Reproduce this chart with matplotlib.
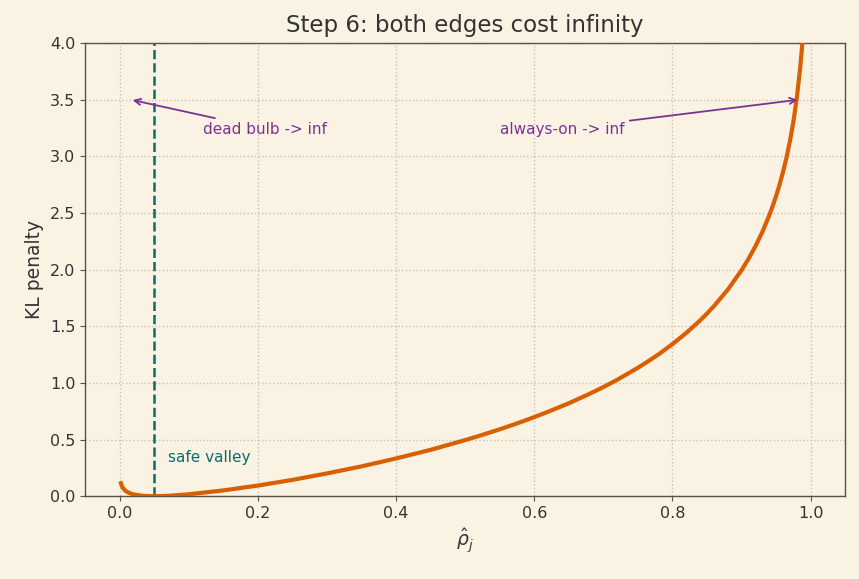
import matplotlib
matplotlib.use("Agg")
import matplotlib.pyplot as plt

# values
rho_hat = [0.002, 0.003, 0.005, 0.007, 0.01, 0.015, 0.02, 0.03, 0.04, 0.05,
           0.07, 0.1, 0.15, 0.2, 0.25, 0.3, 0.35, 0.4, 0.45, 0.5, 0.52, 0.55,
           0.58, 0.6, 0.62, 0.65, 0.68, 0.7, 0.72, 0.75, 0.77, 0.78, 0.8, 0.82,
           0.84, 0.85, 0.86, 0.88, 0.9, 0.91, 0.92, 0.93, 0.94, 0.945, 0.95,
           0.955, 0.96, 0.965, 0.97, 0.975, 0.98, 0.985, 0.988, 0.99, 0.995]
kl_penalty = [0.114, 0.095, 0.071, 0.056, 0.041, 0.026, 0.016, 0.006, 0.001, 0.0,
              0.003, 0.017, 0.051, 0.094, 0.144, 0.201, 0.263, 0.333, 0.409, 0.495,
              0.532, 0.590, 0.653, 0.698, 0.745, 0.820, 0.903, 0.963, 1.027, 1.133,
              1.211, 1.252, 1.342, 1.441, 1.551, 1.612, 1.677, 1.822, 1.994, 2.094,
              2.205, 2.331, 2.477, 2.560, 2.650, 2.750, 2.862, 2.988, 3.134, 3.307,
              3.519, 3.792, 4.004, 4.177, 4.835]
target_rho = 0.05

x_ticks = [0.0, 0.2, 0.4, 0.6, 0.8, 1.0]
y_ticks = [0.0, 0.5, 1.0, 1.5, 2.0, 2.5, 3.0, 3.5, 4.0]

bg = "#faf3e3"
txt = "#333333"
purple = "#7b3294"
teal = "#0b6b6b"
orange = "#d95f02"
spine = "#5a5148"

plt.rcParams["font.family"] = ["DejaVu Sans"]
fig = plt.figure(figsize=(8.59, 5.79), dpi=100, facecolor=bg)
ax = fig.add_axes([0.099, 0.143, 0.885, 0.783], facecolor=bg)

ax.plot(rho_hat, kl_penalty, color=orange, lw=3, zorder=3)
ax.axvline(target_rho, color=teal, ls="--", lw=1.8, zorder=2)

ax.set_xlim(-0.05, 1.05)
ax.set_ylim(0, 4.0)
ax.set_xticks(x_ticks)
ax.set_yticks(y_ticks)
ax.grid(True, ls=":", color="#c9c1b1", lw=1)
ax.set_axisbelow(True)

for s in ax.spines.values():
    s.set_color(spine)
    s.set_linewidth(1)
ax.tick_params(colors=txt, labelsize=11.5, color=spine)

ax.set_title("Step 6: both edges cost infinity", fontsize=16.5, color=txt, pad=8)
ax.set_xlabel(r"$\hat{\rho}_j$", fontsize=13.5, color=txt)
ax.set_ylabel("KL penalty", fontsize=13.5, color=txt)

ax.annotate("dead bulb -> inf", xy=(0.015, 3.5), xytext=(0.12, 3.2),
            color=purple, fontsize=11,
            arrowprops=dict(arrowstyle="->", color=purple, lw=1.3))
ax.annotate("always-on -> inf", xy=(0.985, 3.5), xytext=(0.55, 3.2),
            color=purple, fontsize=11,
            arrowprops=dict(arrowstyle="->", color=purple, lw=1.3))
ax.text(0.07, 0.3, "safe valley", color=teal, fontsize=11)

fig.savefig("out.png", dpi=100, facecolor=bg)
